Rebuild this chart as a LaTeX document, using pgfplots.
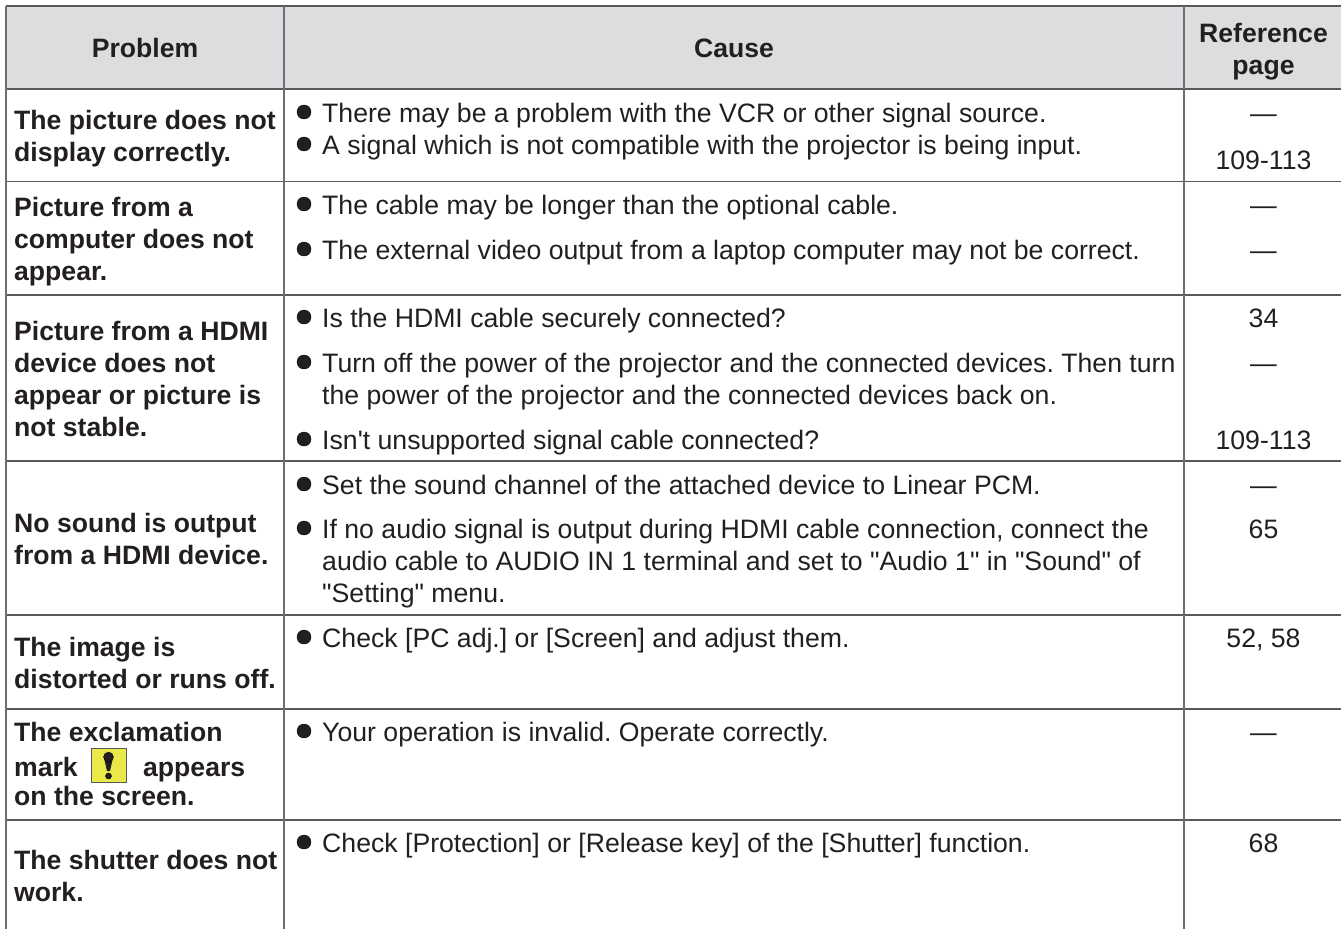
\documentclass[border=0pt]{standalone}
\usepackage{pgfplots}
\pgfplotsset{compat=1.18}
\usepackage{fontspec}
\setmainfont{Liberation Sans}
\newfontfamily\lib{Liberation Sans}
\definecolor{ink}{HTML}{231F20}
\definecolor{rule}{HTML}{58595B}
\definecolor{vrule}{HTML}{6D6E71}
\definecolor{head}{HTML}{DCDDDE}
\definecolor{ybox}{HTML}{EBE84A}
\newcommand\B[3]{\node[anchor=base west,inner sep=0pt,text=ink,font=\lib\frenchspacing\fontsize{26.6}{32}\selectfont\bfseries] at (axis cs:#1,#2) {#3};}
\newcommand\BC[3]{\node[anchor=base,inner sep=0pt,text=ink,font=\lib\frenchspacing\fontsize{26.6}{32}\selectfont\bfseries] at (axis cs:#1,#2) {#3};}
\newcommand\R[3]{\node[anchor=base west,inner sep=0pt,text=ink,font=\lib\frenchspacing\fontsize{26.65}{32}\selectfont] at (axis cs:#1,#2) {#3};}
\newcommand\C[2]{\node[anchor=base,inner sep=0pt,text=ink,font=\lib\frenchspacing\fontsize{26.65}{32}\selectfont] at (axis cs:1263.5,#1) {#2};}
\begin{document}
\begin{tikzpicture}
\useasboundingbox (0,0) rectangle (1341pt,929pt);
\begin{axis}[
  at={(0,0)}, anchor=south west,
  scale only axis, width=1341pt, height=929pt,
  xmin=0, xmax=1341, ymin=0, ymax=929, y dir=reverse,
  hide axis, clip=true]
% header
\addplot[fill=head,draw=none] coordinates {(6,6) (1341,6) (1341,89) (6,89)} --cycle;
% rules
\addplot[rule,line width=1.7pt] coordinates {(6,6) (1341,6)};
\addplot[rule,line width=1.7pt] coordinates {(6,89.3) (1341,89.3)};
\addplot[rule,line width=1.5pt] coordinates {(6,181.5) (1341,181.5)};
\addplot[rule,line width=1.5pt] coordinates {(6,295) (1341,295)};
\addplot[rule,line width=1.5pt] coordinates {(6,461) (1341,461)};
\addplot[rule,line width=1.5pt] coordinates {(6,615) (1341,615)};
\addplot[rule,line width=1.5pt] coordinates {(6,709) (1341,709)};
\addplot[rule,line width=1.5pt] coordinates {(6,820) (1341,820)};
\addplot[vrule,line width=1.4pt] coordinates {(6,6) (6,929)};
\addplot[vrule,line width=1.4pt] coordinates {(284,6) (284,929)};
\addplot[vrule,line width=1.4pt] coordinates {(1184,6) (1184,929)};
% bullets
\addplot[only marks,mark=*,mark size=7pt,mark options={fill=ink,draw=none}] coordinates {
 (304,112) (304,144) (304,204) (304,249) (304,317) (304,362) (304,439) (304,484) (304,528) (304,637) (304,731) (304,842)};
% icon
\addplot[fill=ybox,draw=rule,line width=1pt] coordinates {(91,748) (126,748) (126,782) (91,782)} --cycle;
\addplot[fill=ink,draw=none] coordinates {(103.6,756) (113.4,756) (110,771) (107,771)} --cycle;
\addplot[only marks,mark=*,mark size=4.9pt,mark options={fill=ink,draw=none}] coordinates {(108.5,757)};
\addplot[only marks,mark=*,mark size=3pt,mark options={fill=ink,draw=none}] coordinates {(108.5,776)};
% header text
\BC{145}{57}{Problem}
\BC{734}{57}{Cause}
\BC{1263.5}{42}{Reference}
\BC{1263.5}{74}{page}
% problem column
\B{14}{129}{The picture does not}
\B{14}{161}{display correctly.}
\B{14}{216}{Picture from a}
\B{14}{248}{computer does not}
\B{14}{280}{appear.}
\B{14}{340}{Picture from a HDMI}
\B{14}{372}{device does not}
\B{14}{404}{appear or picture is}
\B{14}{436}{not stable.}
\B{14}{532}{No sound is output}
\B{14}{564}{from a HDMI device.}
\B{14}{656}{The image is}
\B{14}{688}{distorted or runs off.}
\B{14}{741}{The exclamation}
\B{14}{776}{mark}
\B{143}{776}{appears}
\B{14}{805}{on the screen.}
\B{14}{869}{The shutter does not}
\B{14}{901}{work.}
% cause column
\R{322}{122}{There may be a problem with the VCR or other signal source.}
\R{322}{154}{A signal which is not compatible with the projector is being input.}
\R{322}{214}{The cable may be longer than the optional cable.}
\R{322}{259}{The external video output from a laptop computer may not be correct.}
\R{322}{327}{Is the HDMI cable securely connected?}
\R{322}{372}{Turn off the power of the projector and the connected devices. Then turn}
\R{322}{404}{the power of the projector and the connected devices back on.}
\R{322}{449}{Isn't unsupported signal cable connected?}
\R{322}{494}{Set the sound channel of the attached device to Linear PCM.}
\R{322}{538}{If no audio signal is output during HDMI cable connection, connect the}
\R{322}{570}{audio cable to AUDIO IN 1 terminal and set to "Audio 1" in "Sound" of}
\R{322}{602}{"Setting" menu.}
\R{322}{647}{Check [PC adj.] or [Screen] and adjust them.}
\R{322}{741}{Your operation is invalid. Operate correctly.}
\R{322}{852}{Check [Protection] or [Release key] of the [Shutter] function.}
% reference column
\C{122}{—}
\C{169}{109-113}
\C{214}{—}
\C{259}{—}
\C{327}{34}
\C{372}{—}
\C{449}{109-113}
\C{494}{—}
\C{538}{65}
\C{647}{52, 58}
\C{741}{—}
\C{852}{68}
\end{axis}
\end{tikzpicture}
\end{document}
